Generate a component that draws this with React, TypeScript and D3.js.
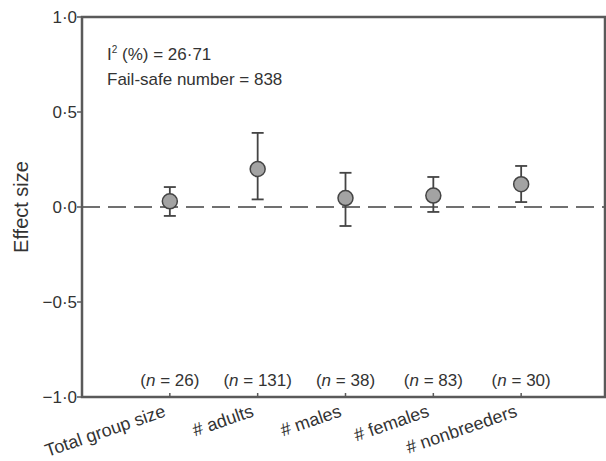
import React from "react";
import * as d3 from "d3";

const categories = ["Total group size", "# adults", "# males", "# females", "# nonbreeders"];
const nValues = [26, 131, 38, 83, 30];
const effect = [0.03, 0.2, 0.047, 0.06, 0.12];
const upper = [0.105, 0.39, 0.18, 0.158, 0.216];
const lower = [-0.047, 0.04, -0.1, -0.026, 0.026];
const yTicks = [1.0, 0.5, 0.0, -0.5, -1.0];

const W = 606, H = 461;
const left = 82, right = 609, top = 17, bottom = 397;
const font = "Liberation Sans, Arial, sans-serif";
const axisColor = "#5a5a5a";
const textColor = "#333";

const fmt = (v: number) => {
  const s = Math.abs(v).toFixed(1).replace(".", "·");
  return (v < 0 ? "−" : "") + s;
};

export default function App() {
  const x = d3.scaleLinear().domain([0, 6]).range([left, right]);
  const y = d3.scaleLinear().domain([-1, 1]).range([bottom, top]);
  return (
    <svg width={W} height={H} style={{ position: "absolute", left: 0, top: 0, background: "#fff" }} fontFamily={font}>
      {/* dashed zero line */}
      <line x1={left} x2={right} y1={y(0)} y2={y(0)} stroke="#707070" strokeWidth={2.2} strokeDasharray="18,8" />
      {/* frame */}
      <rect x={left} y={top} width={right - left - 4} height={bottom - top} fill="none" stroke={axisColor} strokeWidth={2.5} />
      {/* y ticks */}
      {yTicks.map((t) => (
        <g key={t}>
          <line x1={left - 5} x2={left} y1={y(t)} y2={y(t)} stroke={axisColor} strokeWidth={1.5} />
          <text x={left - 5} y={y(t)} dy="0.35em" textAnchor="end" fontSize={17} fill={textColor}>{fmt(t)}</text>
        </g>
      ))}
      {/* x ticks + labels */}
      {categories.map((c, i) => (
        <g key={c}>
          <line x1={x(i + 1)} x2={x(i + 1)} y1={bottom} y2={bottom - 4} stroke={axisColor} strokeWidth={1.5} />
          <text x={x(i + 1)} y={386} textAnchor="middle" fontSize={17} fill={textColor}>
            (<tspan fontStyle="italic">n</tspan> = {nValues[i]})
          </text>
          <text transform={`translate(${x(i + 1) - 3},${416}) rotate(-19)`} textAnchor="end" fontSize={18} fill={textColor}>{c}</text>
        </g>
      ))}
      {/* error bars and points */}
      {categories.map((c, i) => {
        const cx = x(i + 1);
        return (
          <g key={"p" + c}>
            <line x1={cx} x2={cx} y1={y(upper[i])} y2={y(lower[i])} stroke="#444" strokeWidth={1.8} />
            <line x1={cx - 6} x2={cx + 6} y1={y(upper[i])} y2={y(upper[i])} stroke="#444" strokeWidth={1.8} />
            <line x1={cx - 6} x2={cx + 6} y1={y(lower[i])} y2={y(lower[i])} stroke="#444" strokeWidth={1.8} />
            <circle cx={cx} cy={y(effect[i])} r={7.5} fill="#a3a3a3" stroke="#444" strokeWidth={1.5} />
          </g>
        );
      })}
      {/* annotations */}
      <text x={107} y={60} fontSize={17} fill={textColor}>
        I<tspan dy={-7} fontSize={10}>2</tspan><tspan dy={7}> (%) = 26·71</tspan>
      </text>
      <text x={107} y={85} fontSize={17} fill={textColor}>Fail-safe number = 838</text>
      {/* y label */}
      <text transform={`translate(28,${y(0)}) rotate(-90)`} textAnchor="middle" fontSize={20} fill={textColor}>Effect size</text>
    </svg>
  );
}
